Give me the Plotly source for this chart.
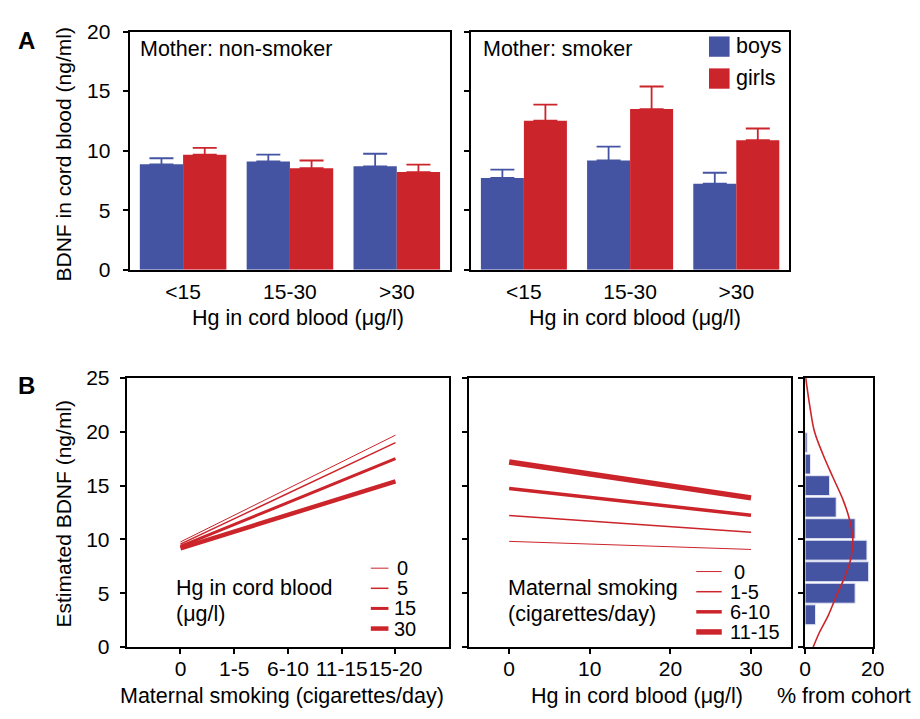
import plotly.graph_objects as go

# The page body has an 8px default margin; the figure is sized so that it fills the
# 920x719 window exactly, and reference pixel positions are shifted by that margin.
OFF = 8
W, H = 920 - OFF, 719 - OFF
RED = '#CC242B'
BLUE = '#4554A2'
FONT = 'Liberation Sans, Arial, Helvetica, sans-serif'

# ---------------- data ----------------
# Panel A: BDNF in cord blood by Hg group, sex, maternal smoking
hg_groups = ['<15', '15-30', '>30']
nonsmoker_boys = [8.85, 9.09, 8.68]
nonsmoker_boys_err = [0.51, 0.57, 1.06]
nonsmoker_girls = [9.66, 8.52, 8.20]
nonsmoker_girls_err = [0.57, 0.65, 0.62]
smoker_boys = [7.71, 9.17, 7.22]
smoker_boys_err = [0.70, 1.17, 0.92]
smoker_girls = [12.51, 13.49, 10.88]
smoker_girls_err = [1.36, 1.90, 0.98]
sex_labels = ['boys', 'girls']

# Panel B left: estimated BDNF vs maternal smoking, per Hg level
smoking_ticks = ['0', '1-5', '6-10', '11-15', '15-20']
smoking_pos = [0, 4]
hg_levels = ['0', '5', '15', '30']
hg_line_start = [9.77, 9.56, 9.35, 9.17]
hg_line_end = [19.69, 19.00, 17.50, 15.40]
hg_widths = [1, 1.5, 3, 4.5]

# Panel B middle: estimated BDNF vs Hg, per smoking level
hg_range = [0, 30]
smoking_levels = ['0', '1-5', '6-10', '11-15']
smk_line_start = [9.82, 12.22, 14.73, 17.19]
smk_line_end = [9.07, 10.66, 12.25, 13.86]
smk_widths = [1, 1.5, 3.5, 5.5]

# Panel B right: distribution in cohort
bdnf_bins = [3, 5, 7, 9, 11, 13, 15, 17, 19]
cohort_pct = [3.1, 14.8, 18.8, 18.3, 14.8, 9.2, 7.25, 1.6, 0.6]
curve_bdnf = [0.0, 1.4, 2.9, 4.7, 6.5, 8.3, 10.1, 11.9, 13.7, 15.8, 17.9, 20.0, 22.4, 25.0]
curve_pct = [2.4, 4.3, 6.8, 9.2, 11.7, 13.6, 14.1, 13.1, 11.2, 8.2, 5.3, 2.8, 1.4, 0.2]


def px(x):
    return (x - OFF) / W


def py(y):
    return 1 - (y - OFF) / H


fig = go.Figure()

# ---- Panel A ----
for xa, ya, boys, boys_err, girls, girls_err in [
    ('x', 'y', nonsmoker_boys, nonsmoker_boys_err, nonsmoker_girls, nonsmoker_girls_err),
    ('x2', 'y2', smoker_boys, smoker_boys_err, smoker_girls, smoker_girls_err),
]:
    for vals, errs, col in [(boys, boys_err, BLUE), (girls, girls_err, RED)]:
        fig.add_trace(go.Bar(
            x=hg_groups, y=vals, xaxis=xa, yaxis=ya, marker=dict(color=col, line=dict(width=0)),
            error_y=dict(type='data', array=errs, arrayminus=[0] * len(errs), symmetric=False,
                         color=col, thickness=1.8, width=12),
            showlegend=False))

# ---- Panel B left ----
for lvl, s, e, w in zip(hg_levels, hg_line_start, hg_line_end, hg_widths):
    fig.add_trace(go.Scatter(x=smoking_pos, y=[s, e], mode='lines', xaxis='x3', yaxis='y3',
                             line=dict(color=RED, width=w), showlegend=False))

# ---- Panel B middle ----
for lvl, s, e, w in zip(smoking_levels, smk_line_start, smk_line_end, smk_widths):
    fig.add_trace(go.Scatter(x=hg_range, y=[s, e], mode='lines', xaxis='x4', yaxis='y4',
                             line=dict(color=RED, width=w), showlegend=False))

# ---- Panel B right ----
fig.add_trace(go.Bar(y=bdnf_bins, x=cohort_pct, orientation='h', xaxis='x5', yaxis='y5', width=1.85,
                     marker=dict(color=BLUE, line=dict(color='#e4e7f4', width=1)), showlegend=False))
fig.add_trace(go.Scatter(x=curve_pct, y=curve_bdnf, mode='lines', xaxis='x5', yaxis='y5',
                         line=dict(color=RED, width=1.6, shape='spline'), showlegend=False))

axis_common = dict(showline=True, linecolor='black', linewidth=2, mirror=True, showgrid=False,
                   zeroline=False, tickcolor='black', tickwidth=1.5, ticklen=5, tickangle=0,
                   tickfont=dict(size=21, color='black', family=FONT))

yA = [py(266), py(20)]
yB = [py(656), py(378)]

fig.update_layout(
    width=W, height=H, autosize=False,
    margin=dict(l=0, r=0, t=0, b=0),
    paper_bgcolor='white', plot_bgcolor='white',
    font=dict(family=FONT, color='black', size=21),
    barmode='group', bargap=0.19, bargroupgap=0,
    xaxis=dict(domain=[px(126), px(453)], anchor='y', range=[-0.5, 2.5], type='category',
               ticks='', ticklabelstandoff=2, **axis_common),
    yaxis=dict(domain=yA, anchor='x', range=[0, 20], tickvals=[0, 5, 10, 15, 20], ticks='outside',
               ticklabelstandoff=8, **axis_common),
    xaxis2=dict(domain=[px(474), px(799)], anchor='y2', range=[-0.5, 2.5], type='category',
                ticks='', ticklabelstandoff=2, **axis_common),
    yaxis2=dict(domain=yA, anchor='x2', range=[0, 20], tickvals=[0, 5, 10, 15, 20], ticks='outside',
                showticklabels=False, **axis_common),
    xaxis3=dict(domain=[px(123), px(452)], anchor='y3', range=[-1, 5], tickvals=[0, 1, 2, 3, 4],
                ticktext=smoking_ticks, ticks='outside', ticklabelstandoff=-3, **axis_common),
    yaxis3=dict(domain=yB, anchor='x3', range=[0, 25], tickvals=[0, 5, 10, 15, 20, 25], ticks='outside',
                ticklabelstandoff=6, **axis_common),
    xaxis4=dict(domain=[px(472), px(801)], anchor='y4', range=[-5, 35], tickvals=[0, 10, 20, 30],
                ticks='outside', ticklabelstandoff=-3, **axis_common),
    yaxis4=dict(domain=yB, anchor='x4', range=[0, 25], tickvals=[0, 5, 10, 15, 20, 25], ticks='outside',
                showticklabels=False, **axis_common),
    xaxis5=dict(domain=[px(815), px(884)], anchor='y5', range=[0, 20], tickvals=[0, 20],
                ticks='outside', ticklabelstandoff=-3, **axis_common),
    yaxis5=dict(domain=yB, anchor='x5', range=[0, 25], tickvals=[0, 5, 10, 15, 20, 25], ticks='outside',
                showticklabels=False, **axis_common),
)

ann = []
shapes = []


def text(x, y, s, size=21.5, xanchor='left', bold=False, angle=0):
    ann.append(dict(x=px(x), y=py(y), xref='paper', yref='paper', text=('<b>%s</b>' % s) if bold else s,
                    showarrow=False, xanchor=xanchor, yanchor='middle', textangle=angle,
                    font=dict(size=size, color='black', family=FONT)))


# panel letters
text(10, 29, 'A', size=24, bold=True)
text(10, 386, 'B', size=24, bold=True)

# Panel A texts
text(134, 38, 'Mother: non-smoker')
text(484, 38, 'Mother: smoker')
text(298, 316, 'Hg in cord blood (μg/l)', xanchor='center')
text(642, 316, 'Hg in cord blood (μg/l)', xanchor='center')
text(58, 147, 'BDNF in cord blood (ng/ml)', size=21, xanchor='center', angle=-90)

# Panel A legend
for i, (lab, col) in enumerate(zip(sex_labels, [BLUE, RED])):
    y0 = 25 + i * 33
    shapes.append(dict(type='rect', xref='paper', yref='paper', x0=px(717), x1=px(738),
                       y0=py(y0 + 21), y1=py(y0), fillcolor=col, line=dict(width=0)))
    text(742, y0 + 10, lab)

# Panel B texts
text(58, 518, 'Estimated BDNF (ng/ml)', size=21, xanchor='center', angle=-90)
text(281, 707, 'Maternal smoking (cigarettes/day)', xanchor='center')
text(644, 707, 'Hg in cord blood (μg/l)', xanchor='center')
text(784, 707, '% from cohort')
text(171, 595, 'Hg in cord blood')
text(171, 622, '(μg/l)')
text(510, 595, 'Maternal smoking')
text(510, 622, '(cigarettes/day)')

# Panel B legends
for i, (lab, w) in enumerate(zip(hg_levels, hg_widths)):
    yy = 574.5 + i * 20.8
    shapes.append(dict(type='line', xref='paper', yref='paper', x0=px(372), x1=px(390), y0=py(yy), y1=py(yy),
                       line=dict(color=RED, width=w)))
    text(394 if len(lab) > 1 else 397, yy, lab, size=20)
for i, (lab, w) in enumerate(zip(smoking_levels, smk_widths)):
    yy = 578 + i * 20.8
    shapes.append(dict(type='line', xref='paper', yref='paper', x0=px(704), x1=px(730), y0=py(yy), y1=py(yy),
                       line=dict(color=RED, width=w)))
    text(740 if lab == '0' else 736, yy, lab, size=20)

fig.update_layout(annotations=ann, shapes=shapes)
fig.write_html('out.html')
